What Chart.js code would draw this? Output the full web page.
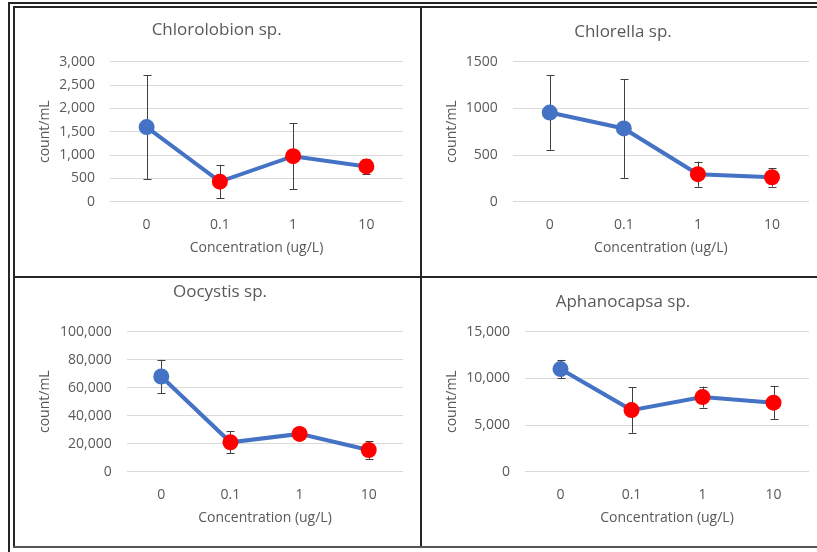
<!DOCTYPE html>
<html>
<head>
<meta charset="utf-8">
<script src="https://cdn.jsdelivr.net/npm/chart.js@4.4.1/dist/chart.umd.min.js"></script>
<style>
  html, body { margin: 0; padding: 0; background: #fff; }
  body { width: 817px; height: 552px; position: relative; overflow: hidden; }
  canvas { position: absolute; }
  .rule { position: absolute; background: #262626; }
</style>
</head>
<body>
<div class="rule" style="left:8px;top:2px;width:2px;height:550px"></div>
<div class="rule" style="left:8px;top:2px;width:809px;height:2px"></div>
<div class="rule" style="left:13px;top:6px;width:2px;height:542px"></div>
<div class="rule" style="left:13px;top:6px;width:804px;height:2px"></div>
<div class="rule" style="left:420px;top:6px;width:2px;height:542px"></div>
<div class="rule" style="left:13px;top:276px;width:804px;height:2px"></div>
<div class="rule" style="left:13px;top:546px;width:804px;height:2px;background:#555"></div>

<canvas id="chlorolobion"></canvas>
<canvas id="chlorella"></canvas>
<canvas id="oocystis"></canvas>
<canvas id="aphanocapsa"></canvas>

<script>
// concentrations on the x axis
const concentrations = ["0", "0.1", "1", "10"];

// mean cell counts and error (+/-) per concentration
const chlorolobionMean = [1600, 430, 975, 755];
const chlorolobionErr = [1115, 360, 705, 165];
const chlorellaMean = [955, 785, 295, 262];
const chlorellaErr = [400, 530, 135, 100];
const oocystisMean = [68000, 21000, 27000, 15500];
const oocystisErr = [11900, 7800, 3000, 6300];
const aphanocapsaMean = [11000, 6600, 8000, 7400];
const aphanocapsaErr = [980, 2440, 1125, 1800];

// which points differ from control (drawn red)
const chlorolobionSig = [false, true, true, true];
const chlorellaSig = [false, false, true, true];
const oocystisSig = [false, true, true, true];
const aphanocapsaSig = [false, true, true, true];

// y axis ranges
const chlorolobionAxis = [0, 3000, 500];
const chlorellaAxis = [0, 1500, 500];
const oocystisAxis = [0, 100000, 20000];
const aphanocapsaAxis = [0, 15000, 5000];

const BLUE = "#4472C4";
const RED = "#FF0000";
const TEXT = "#595959";
const FONT = '"Open Sans", "Noto Sans", sans-serif';

const errorBars = {
  id: "errorBars",
  beforeDatasetsDraw(chart, args, opts) {
    const ctx = chart.ctx;
    const xs = chart.scales.x;
    const ys = chart.scales.y;
    const values = chart.data.datasets[0].data;
    ctx.save();
    ctx.strokeStyle = "#404040";
    ctx.lineWidth = 1;
    values.forEach((v, i) => {
      const x = Math.round(xs.getPixelForValue(i)) + 0.5;
      const top = ys.getPixelForValue(v + opts.errors[i]);
      const bot = ys.getPixelForValue(v - opts.errors[i]);
      ctx.beginPath();
      ctx.moveTo(x, top);
      ctx.lineTo(x, bot);
      ctx.moveTo(x - 4, Math.round(top) + 0.5);
      ctx.lineTo(x + 4, Math.round(top) + 0.5);
      ctx.moveTo(x - 4, Math.round(bot) + 0.5);
      ctx.lineTo(x + 4, Math.round(bot) + 0.5);
      ctx.stroke();
    });
    ctx.restore();
  },
};

const panelTitle = {
  id: "panelTitle",
  afterDraw(chart, args, opts) {
    const ctx = chart.ctx;
    ctx.save();
    ctx.font = "17px " + FONT;
    ctx.fillStyle = TEXT;
    ctx.textAlign = "center";
    ctx.textBaseline = "middle";
    ctx.fillText(opts.text, opts.x, opts.y);
    ctx.restore();
  },
};

// page positions: cell box, plot area, title centre, axis title lines
function makeChart(id, title, means, errs, sig, axis, commas, box) {
  const [cx, cy, cw, ch] = box.cell;
  const canvas = document.getElementById(id);
  canvas.width = cw;
  canvas.height = ch;
  canvas.style.left = cx + "px";
  canvas.style.top = cy + "px";

  const half = 14 * 1.2 / 2;

  return new Chart(canvas, {
    type: "line",
    data: {
      labels: concentrations,
      datasets: [
        {
          data: means,
          borderColor: BLUE,
          borderWidth: 4,
          pointRadius: 8,
          pointHoverRadius: 8,
          pointBorderWidth: 0,
          pointBackgroundColor: sig.map((s) => (s ? RED : BLUE)),
          tension: 0,
        },
      ],
    },
    options: {
      responsive: false,
      animation: false,
      events: [],
      layout: {
        padding: {
          left: 0,
          top: box.plot[1] - cy,
          right: cx + cw - box.plot[2],
          bottom: 0,
        },
      },
      plugins: {
        legend: { display: false },
        tooltip: { enabled: false },
        title: { display: false },
        errorBars: { errors: errs },
        panelTitle: { text: title, x: box.title[0] - cx, y: box.title[1] - cy },
      },
      scales: {
        x: {
          offset: true,
          grid: { display: false, drawTicks: false },
          border: { display: false },
          ticks: { color: TEXT, font: { family: FONT, size: 14 }, padding: 15 },
          title: {
            display: true,
            text: "Concentration (ug/L)",
            color: TEXT,
            font: { family: FONT, size: 14 },
            padding: { top: 0, bottom: cy + ch - box.xTitleY - half },
          },
          afterFit(scale) {
            scale.height = cy + ch - box.plot[3];
          },
        },
        y: {
          min: axis[0],
          max: axis[1],
          grid: { color: "#D9D9D9", lineWidth: 1, drawTicks: false },
          border: { display: false },
          ticks: {
            stepSize: axis[2],
            color: TEXT,
            font: { family: FONT, size: 14 },
            padding: 15,
            callback: (v) => (commas ? v.toLocaleString("en-US") : String(v)),
          },
          title: {
            display: true,
            text: "count/mL",
            color: TEXT,
            font: { family: FONT, size: 14 },
            padding: { top: box.yTitleX - cx - half, bottom: 0 },
          },
          afterFit(scale) {
            scale.width = box.plot[0] - cx;
          },
        },
      },
    },
    plugins: [errorBars, panelTitle],
  });
}

makeChart("chlorolobion", "Chlorolobion sp.", chlorolobionMean, chlorolobionErr, chlorolobionSig, chlorolobionAxis, true, {
  cell: [15, 8, 405, 268],
  plot: [110, 61.7, 403, 201.7],
  title: [216.7, 30],
  yTitleX: 45,
  xTitleY: 248,
});

makeChart("chlorella", "Chlorella sp.", chlorellaMean, chlorellaErr, chlorellaSig, chlorellaAxis, false, {
  cell: [422, 8, 395, 268],
  plot: [512.7, 61.7, 809.3, 201.7],
  title: [623, 31.7],
  yTitleX: 451.7,
  xTitleY: 248,
});

makeChart("oocystis", "Oocystis sp.", oocystisMean, oocystisErr, oocystisSig, oocystisAxis, true, {
  cell: [15, 278, 405, 268],
  plot: [126.7, 331.7, 403.3, 471.7],
  title: [220, 291.7],
  yTitleX: 45,
  xTitleY: 518,
});

makeChart("aphanocapsa", "Aphanocapsa sp.", aphanocapsaMean, aphanocapsaErr, aphanocapsaSig, aphanocapsaAxis, true, {
  cell: [422, 278, 395, 268],
  plot: [525, 331.7, 809.3, 471.7],
  title: [623, 301.7],
  yTitleX: 451.7,
  xTitleY: 518,
});
</script>
</body>
</html>
